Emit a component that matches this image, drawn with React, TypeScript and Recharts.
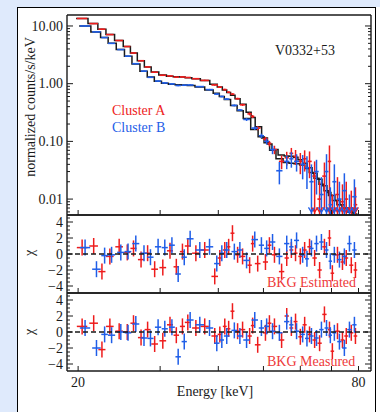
import React from "react";
import { ComposedChart, Line, Scatter, XAxis, YAxis, ErrorBar, ReferenceLine } from "recharts";

// energy bins (keV)
const energyA = [20.4, 21.6, 22.5, 23.4, 24.5, 25.5, 26.3, 27.3, 28.2, 29.2, 30.4, 31.5, 32.5, 33.5, 34.4, 35.8, 37.4, 39.3, 40.3, 41.3, 42.1, 42.9, 44.0, 45.1, 46.7, 47.4, 48.6, 50.5, 51.5, 52.8, 54.7, 56.1, 57.4, 58.6, 60.0, 61.3, 62.8, 64.4, 66.0, 67.6, 69.3, 70.3, 72.1, 73.9, 75.3, 77.2, 78.8];
const energyB = [20.7, 21.9, 22.8, 23.6, 24.7, 25.6, 26.6, 27.7, 28.6, 29.7, 30.7, 31.8, 32.8, 33.8, 34.8, 36.5, 38.3, 39.7, 40.7, 41.7, 43.3, 44.5, 46.0, 47.9, 49.5, 50.8, 52.3, 54.1, 56.1, 57.4, 58.9, 60.7, 62.0, 63.4, 65.0, 66.6, 68.3, 69.6, 71.0, 72.8, 74.6, 76.5, 78.4];

// normalized counts/s/keV
const modelA = [13.5, 11.0, 8.8, 7.1, 5.6, 4.4, 3.4, 2.5, 1.95, 1.6, 1.42, 1.35, 1.32, 1.3, 1.27, 1.22, 1.13, 0.98, 0.88, 0.78, 0.7, 0.63, 0.55, 0.44, 0.32, 0.26, 0.18, 0.115, 0.09, 0.072, 0.058, 0.056, 0.055, 0.053, 0.048, 0.042, 0.035, 0.028, 0.022, 0.017, 0.013, 0.0115, 0.0095, 0.008, 0.007, 0.006, 0.0055];
const dataA = [13.5, 11.0, 8.8, 7.1, 5.6, 4.4, 3.4, 2.5, 1.95, 1.58, 1.4, 1.36, 1.3, 1.31, 1.28, 1.22, 1.14, 0.95, 0.87, 0.79, 0.71, 0.66, 0.55, 0.43, 0.3, 0.27, 0.17, 0.11, 0.092, 0.072, 0.045, 0.052, 0.062, 0.055, 0.045, 0.05, 0.045, 0.025, 0.01, 0.025, 0.045, 0.006, 0.012, 0.009, 0.01, 0.007, 0.008];
const errA = [0.25, 0.2, 0.16, 0.13, 0.1, 0.08, 0.065, 0.05, 0.04, 0.035, 0.03, 0.03, 0.03, 0.03, 0.03, 0.03, 0.03, 0.028, 0.026, 0.025, 0.024, 0.022, 0.02, 0.02, 0.018, 0.016, 0.014, 0.01, 0.01, 0.012, 0.012, 0.014, 0.015, 0.016, 0.018, 0.02, 0.022, 0.02, 0.01, 0.018, 0.04, 0.006, 0.012, 0.009, 0.01, 0.007, 0.008];

const modelB = [10.0, 7.9, 6.3, 5.0, 3.9, 3.0, 2.2, 1.65, 1.3, 1.1, 1.02, 0.98, 0.96, 0.95, 0.93, 0.88, 0.78, 0.68, 0.6, 0.53, 0.42, 0.34, 0.25, 0.16, 0.12, 0.095, 0.07, 0.05, 0.043, 0.042, 0.041, 0.039, 0.034, 0.029, 0.023, 0.018, 0.014, 0.0115, 0.0095, 0.008, 0.007, 0.006, 0.0052];
const dataB = [10.0, 7.9, 6.3, 5.0, 3.9, 3.0, 2.22, 1.65, 1.29, 1.11, 1.03, 0.99, 0.93, 0.94, 0.95, 0.89, 0.79, 0.66, 0.6, 0.54, 0.42, 0.35, 0.24, 0.17, 0.125, 0.1, 0.072, 0.031, 0.045, 0.05, 0.045, 0.04, 0.035, 0.02, 0.03, 0.012, 0.03, 0.008, 0.02, 0.01, 0.014, 0.006, 0.011];
const errB = [0.2, 0.15, 0.12, 0.1, 0.08, 0.06, 0.045, 0.035, 0.03, 0.025, 0.025, 0.024, 0.024, 0.024, 0.024, 0.024, 0.022, 0.02, 0.02, 0.018, 0.016, 0.015, 0.014, 0.012, 0.011, 0.012, 0.012, 0.013, 0.012, 0.015, 0.015, 0.018, 0.02, 0.02, 0.018, 0.012, 0.03, 0.008, 0.02, 0.01, 0.014, 0.006, 0.011];

// residuals (chi)
const chiEstA = [0.8, 1.0, -2.2, -0.3, 0.9, 0.2, 0.7, -0.7, 0.1, -1.9, -1.7, 0.4, -1.6, 0.3, 1.0, 0.1, 0.5, -2.8, -0.5, 0.5, 0.9, 2.6, -0.1, -0.3, -1.4, 1.3, -1.2, -1.0, 1.1, -0.1, -2.2, -0.5, 0.5, 0.1, -0.3, 0.5, 0.9, -0.5, -2.0, 0.9, 2.0, -2.4, -0.1, -1.0, -0.5, -1.4, -2.0];
const chiEstB = [0.8, -1.9, -0.2, -0.1, 0.2, 0.3, 1.3, 0.1, -0.4, 0.9, 0.8, 1.1, -2.5, -0.4, 1.9, 0.5, 0.9, -1.2, 0.1, 0.5, 0.3, 0.5, -0.8, 1.8, 1.1, 0.7, 1.5, -0.3, 1.3, 0.9, 1.7, -0.1, -0.6, 0.7, 1.3, 1.5, 0.5, -0.9, -0.1, -0.7, -0.3, 1.3, 0.5];
const chiMeasA = [0.7, 1.1, -2.2, 0.7, 0.1, 0.0, 1.1, -0.7, 0.3, -1.5, -1.1, 0.9, -0.4, 0.7, 1.2, 0.5, 0.7, -0.5, -0.3, 0.7, 0.4, 2.6, 0.1, 0.3, -0.5, 0.8, -1.6, -0.1, 1.1, 0.7, -1.0, 2.0, 0.5, 1.3, -0.6, 0.9, -0.3, -1.0, -1.4, 2.2, 0.3, -2.4, 0.1, -1.0, -0.5, -0.1, -0.5];
const chiMeasB = [0.5, -2.0, -0.3, -0.4, 0.0, -0.1, 1.0, -0.75, -0.8, 0.6, 0.4, 0.6, -3.1, -1.2, 1.5, 0.9, 0.5, -1.4, -1.0, -0.5, 0.2, -0.5, -1.0, 1.5, 0.5, 0.7, 0.1, -0.1, 1.3, 0.9, 0.1, -0.3, -0.8, -0.5, -0.75, 0.3, 0.5, -0.4, -0.1, -1.2, -2.0, 0.3, 0.9];

const X_DOMAIN = [18.93, 85.1];
const X_TICKS = [20, 30, 40, 50, 60, 70, 80];
const X_LABELED = [20, 80];

const FLUX_DOMAIN = [0.0053, 15.5];
const FLUX_MAJOR = [0.01, 0.1, 1, 10];
const FLUX_TICKS = [0.006, 0.007, 0.008, 0.009, 0.01, 0.02, 0.03, 0.04, 0.05, 0.06, 0.07, 0.08, 0.09, 0.1, 0.2, 0.3, 0.4, 0.5, 0.6, 0.7, 0.8, 0.9, 1, 2, 3, 4, 5, 6, 7, 8, 9, 10];

const CHI_DOMAIN = [-4.875, 4.875];
const CHI_MAJOR = [-4, -2, 0, 2, 4];
const CHI_TICKS = [-4.5, -4, -3.5, -3, -2.5, -2, -1.5, -1, -0.5, 0, 0.5, 1, 1.5, 2, 2.5, 3, 3.5, 4, 4.5];

const RED = "#ee1c1c";
const BLUE = "#1f5ee8";
const INK = "#1a1a1a";
const FONT = "'Liberation Serif', 'Times New Roman', serif";

const halfWidths = (e: number[]) =>
  e.map((v, i) => {
    const prev = i > 0 ? e[i - 1] : v - (e[1] - e[0]);
    const next = i < e.length - 1 ? e[i + 1] : v + (v - e[i - 1]);
    return (next - prev) * 0.22;
  });

const specRows = (e: number[], val: number[], err: number[]) => {
  const hw = halfWidths(e);
  return e.map((x, i) => ({
    x,
    y: val[i],
    ex: hw[i],
    ey: [Math.min(err[i], val[i] - FLUX_DOMAIN[0]), err[i]],
    limit: val[i] - err[i] <= FLUX_DOMAIN[0],
  }));
};

const stepRows = (e: number[], m: number[]) => {
  const rows = e.map((x, i) => ({ x: i === 0 ? x - (e[1] - e[0]) / 2 : (e[i - 1] + x) / 2, y: m[i] }));
  const n = e.length - 1;
  rows.push({ x: e[n] + (e[n] - e[n - 1]) / 2, y: m[n] });
  return rows;
};

const chiRows = (e: number[], chi: number[]) => {
  const hw = halfWidths(e);
  return e.map((x, i) => ({ x, y: chi[i], ex: hw[i], ey: 1 }));
};

const specA = specRows(energyA, dataA, errA);
const specB = specRows(energyB, dataB, errB);
const arrowsA = specA.filter((r) => r.limit).map((r) => ({ x: r.x, y: 0.0059 }));
const arrowsB = specB.filter((r) => r.limit).map((r) => ({ x: r.x, y: 0.0059 }));

const isIn = (list: number[], v: number) => list.some((m) => Math.abs(m - v) < 1e-9);

const Blank = () => <g />;

const arrowShape = (color: string) => (p: any) =>
  <path d={`M${p.cx - 3},${p.cy - 5} L${p.cx},${p.cy} L${p.cx + 3},${p.cy - 5}`} stroke={color} strokeWidth={1.3} fill="none" />;

const yTick = (side: "left" | "right", majors: number[], fmt?: (v: number) => string) => (p: any) => {
  const v = p.payload.value;
  const major = isIn(majors, v);
  const dir = side === "left" ? 1 : -1;
  return (
    <g>
      <line x1={p.x} x2={p.x + dir * (major ? 6 : 3)} y1={p.y} y2={p.y} stroke={INK} strokeWidth={1} />
      {major && fmt && (
        <text x={p.x - 4} y={p.y} dy="0.34em" textAnchor="end" fontFamily={FONT} fontSize={14} fill={INK}>
          {fmt(v)}
        </text>
      )}
    </g>
  );
};

const xTick = (side: "top" | "bottom", labeled: number[]) => (p: any) => {
  const v = p.payload.value;
  const dir = side === "top" ? 1 : -1;
  return (
    <g>
      <line x1={p.x} x2={p.x} y1={p.y} y2={p.y + dir * 5} stroke={INK} strokeWidth={1} />
      {side === "bottom" && isIn(labeled, v) && (
        <text x={p.x} y={p.y + 16} textAnchor="middle" fontFamily={FONT} fontSize={14} fill={INK}>
          {v}
        </text>
      )}
    </g>
  );
};

const fluxFmt = (v: number) => v.toFixed(2);
const chiFmt = (v: number) => (v < 0 ? "\u2212" + Math.abs(v) : String(v));

interface PanelProps {
  top: number;
  height: number;
  plotTop: number;
  plotBottom: number;
  log?: boolean;
  yDomain: number[];
  yTicks: number[];
  yMajors: number[];
  yFmt: (v: number) => string;
  xLabels: number[];
  children: React.ReactNode;
}

const AXIS_LINE = { stroke: INK, strokeWidth: 1.4 };

const Panel = ({ top, height, plotTop, plotBottom, log, yDomain, yTicks, yMajors, yFmt, xLabels, children }: PanelProps) => (
  <div style={{ position: "absolute", left: 0, top, width: 380, height }}>
    <ComposedChart
      width={380}
      height={height}
      margin={{ top: plotTop - top - 1, right: 8, bottom: top + height - plotBottom - 1, left: 17 }}
    >
      <XAxis
        dataKey="x"
        type="number"
        scale="log"
        domain={X_DOMAIN}
        allowDataOverflow
        ticks={X_TICKS}
        interval={0}
        height={1}
        tickSize={0}
        tickMargin={0}
        tickLine={false}
        axisLine={AXIS_LINE}
        tick={xTick("bottom", xLabels)}
      />
      <XAxis
        xAxisId="t"
        orientation="top"
        type="number"
        scale="log"
        domain={X_DOMAIN}
        allowDataOverflow
        ticks={X_TICKS}
        interval={0}
        height={1}
        tickSize={0}
        tickMargin={0}
        tickLine={false}
        axisLine={AXIS_LINE}
        tick={xTick("top", [])}
      />
      <YAxis
        type="number"
        scale={log ? "log" : "linear"}
        domain={yDomain}
        allowDataOverflow
        ticks={yTicks}
        interval={0}
        width={50}
        tickSize={0}
        tickMargin={0}
        tickLine={false}
        axisLine={AXIS_LINE}
        tick={yTick("left", yMajors, yFmt)}
      />
      <YAxis
        yAxisId="r"
        orientation="right"
        type="number"
        scale={log ? "log" : "linear"}
        domain={yDomain}
        allowDataOverflow
        ticks={yTicks}
        interval={0}
        width={1}
        tickSize={0}
        tickMargin={0}
        tickLine={false}
        axisLine={AXIS_LINE}
        tick={yTick("right", yMajors)}
      />
      {children}
    </ComposedChart>
  </div>
);

const residualChildren = (redChi: number[], blueChi: number[]) => [
  <Scatter key="ra" data={chiRows(energyA, redChi)} dataKey="y" shape={Blank} isAnimationActive={false}>
    <ErrorBar dataKey="ey" direction="y" width={0} stroke={RED} strokeWidth={1.5} isAnimationActive={false} />
    <ErrorBar dataKey="ex" direction="x" width={0} stroke={RED} strokeWidth={1.5} isAnimationActive={false} />
  </Scatter>,
  <Scatter key="rb" data={chiRows(energyB, blueChi)} dataKey="y" shape={Blank} isAnimationActive={false}>
    <ErrorBar dataKey="ey" direction="y" width={0} stroke={BLUE} strokeWidth={1.5} isAnimationActive={false} />
    <ErrorBar dataKey="ex" direction="x" width={0} stroke={BLUE} strokeWidth={1.5} isAnimationActive={false} />
  </Scatter>,
  <ReferenceLine key="zero" y={0} stroke={INK} strokeWidth={1.5} strokeDasharray="5 3" />,
];

export default function App() {
  return (
    <div style={{ position: "absolute", left: 0, top: 0, width: 380, height: 412, background: "#dfeafc", overflow: "hidden" }}>
      <div style={{ position: "absolute", left: 376, top: 7, width: 4, height: 405, background: "#fff" }} />
      <div
        style={{
          position: "absolute",
          left: 17,
          top: 7,
          width: 359,
          height: 420,
          boxSizing: "border-box",
          border: "1.5px solid #000",
          background: "#fff",
        }}
      />
      <Panel top={0} height={217} plotTop={15} plotBottom={215} log yDomain={FLUX_DOMAIN} yTicks={FLUX_TICKS} yMajors={FLUX_MAJOR} yFmt={fluxFmt} xLabels={[]}>
        <Line data={stepRows(energyA, modelA)} dataKey="y" type="stepAfter" stroke={INK} strokeWidth={1.5} dot={false} isAnimationActive={false} />
        <Line data={stepRows(energyB, modelB)} dataKey="y" type="stepAfter" stroke={INK} strokeWidth={1.5} dot={false} isAnimationActive={false} />
        <Scatter data={specA} dataKey="y" shape={Blank} isAnimationActive={false}>
          <ErrorBar dataKey="ey" direction="y" width={0} stroke={RED} strokeWidth={1.5} isAnimationActive={false} />
          <ErrorBar dataKey="ex" direction="x" width={0} stroke={RED} strokeWidth={1.6} isAnimationActive={false} />
        </Scatter>
        <Scatter data={specB} dataKey="y" shape={Blank} isAnimationActive={false}>
          <ErrorBar dataKey="ey" direction="y" width={0} stroke={BLUE} strokeWidth={1.5} isAnimationActive={false} />
          <ErrorBar dataKey="ex" direction="x" width={0} stroke={BLUE} strokeWidth={1.6} isAnimationActive={false} />
        </Scatter>
        <Scatter data={arrowsA} dataKey="y" shape={arrowShape(RED)} isAnimationActive={false} />
        <Scatter data={arrowsB} dataKey="y" shape={arrowShape(BLUE)} isAnimationActive={false} />
      </Panel>
      <Panel top={205} height={95} plotTop={215} plotBottom={293} yDomain={CHI_DOMAIN} yTicks={CHI_TICKS} yMajors={CHI_MAJOR} yFmt={chiFmt} xLabels={[]}>
        {residualChildren(chiEstA, chiEstB)}
      </Panel>
      <Panel top={283} height={129} plotTop={293} plotBottom={371} yDomain={CHI_DOMAIN} yTicks={CHI_TICKS} yMajors={CHI_MAJOR} yFmt={chiFmt} xLabels={X_LABELED}>
        {residualChildren(chiMeasA, chiMeasB)}
      </Panel>
      <svg width={380} height={412} style={{ position: "absolute", left: 0, top: 0, pointerEvents: "none" }}>
        <g fontFamily={FONT} fontSize={14}>
          <text transform="translate(34.5,107) rotate(-90)" textAnchor="middle" fill={INK}>
            normalized counts/s/keV
          </text>
          <text transform="translate(34,253) rotate(-90)" textAnchor="middle" fill={INK}>χ</text>
          <text transform="translate(34,332) rotate(-90)" textAnchor="middle" fill={INK}>χ</text>
          <text x={275} y={55} fill={INK}>V0332+53</text>
          <text x={112} y={115} fill={RED}>Cluster A</text>
          <text x={112} y={132} fill={BLUE}>Cluster B</text>
          <text x={267} y={287} fill="#ee3a3a">BKG Estimated</text>
          <text x={267} y={366} fill="#ee3a3a">BKG Measured</text>
          <text x={215} y={396} textAnchor="middle" fill={INK}>Energy [keV]</text>
        </g>
      </svg>
    </div>
  );
}
